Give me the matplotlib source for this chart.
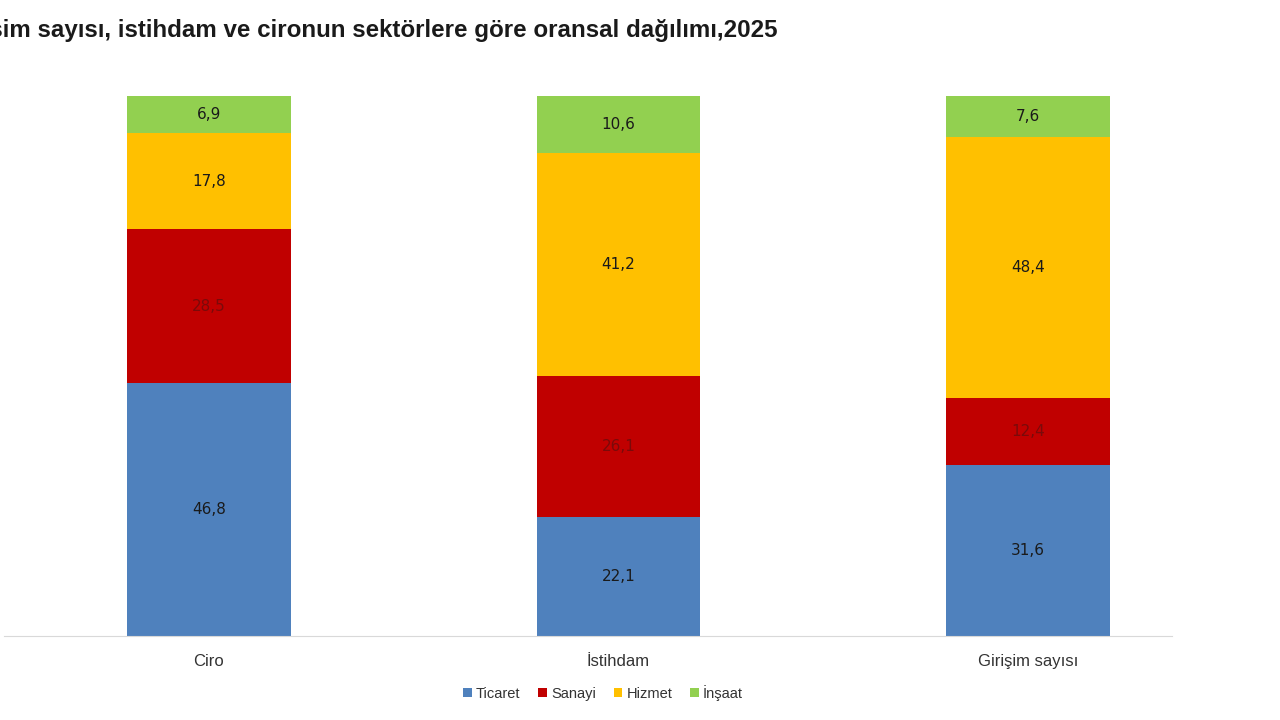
import matplotlib
matplotlib.use("Agg")
import matplotlib.pyplot as plt
import numpy as np

categories = ["Ciro", "İstihdam", "Girişim sayısı"]
series_names = ["Ticaret", "Sanayi", "Hizmet", "İnşaat"]
ticaret = [46.8, 22.1, 31.6]
sanayi = [28.5, 26.1, 12.4]
hizmet = [17.8, 41.2, 48.4]
insaat = [6.9, 10.6, 7.6]
title = "Girişim sayısı, istihdam ve cironun sektörlere göre oransal dağılımı,2025"

colors = ["#4F81BD", "#C00000", "#FFC000", "#92D050"]
label_colors = ["#1a1a1a", "#7a0a0a", "#1a1a1a", "#1a1a1a"]

plt.rcParams['font.family'] = ['Liberation Sans', 'DejaVu Sans']

fig = plt.figure(figsize=(12.8, 7.2), dpi=100)
W, H = 1280, 720
ax = fig.add_axes([4 / W, 1 - 636 / H, (1172 - 4) / W, (636 - 96) / H])

x = np.arange(len(categories))
bottom = np.zeros(len(categories))
handles = []
for vals, c, lc, name in zip([ticaret, sanayi, hizmet, insaat], colors, label_colors, series_names):
    vals = np.array(vals)
    b = ax.bar(x, vals, 0.4, bottom=bottom, color=c, label=name, linewidth=0)
    handles.append(b)
    for xi, v, bt in zip(x, vals, bottom):
        ax.text(xi, bt + v / 2, f"{v:.1f}".replace(".", ","), ha="center", va="center",
                fontsize=11, color=lc, family=['DejaVu Sans'])
    bottom += vals

ax.set_xlim(-0.5006, 2.3516)
ax.set_ylim(0, 100)
for s in ["top", "right", "left"]:
    ax.spines[s].set_visible(False)
ax.spines["bottom"].set_color("#d9d9d9")
ax.set_yticks([])
ax.set_xticks(x)
ax.set_xticklabels(categories, fontsize=12, color="#333333")
ax.tick_params(axis="x", length=0, pad=13)

fig.text(778 / W, 1 - 31 / H, title, ha="right", va="center", fontsize=17.4,
         fontweight="bold", color="#1a1a1a")

leg = fig.legend(handles=handles, labels=series_names, loc="center",
                 bbox_to_anchor=(603 / W, 1 - 693 / H), ncol=4, frameon=False,
                 fontsize=10.5, handlelength=0.6, handleheight=0.6, handletextpad=0.3,
                 columnspacing=1.2)
for t in leg.get_texts():
    t.set_color("#333333")

fig.savefig("out.png", dpi=100)
